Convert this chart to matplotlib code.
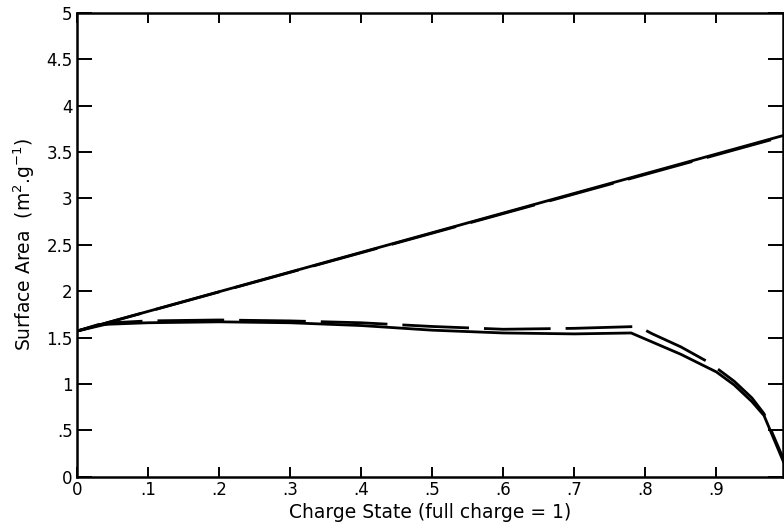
import numpy as np
import matplotlib
matplotlib.use('Agg')
import matplotlib.pyplot as plt

# Surface area vs. charge state, measured (solid) and model (dashed)
upper_x = [0.0, 1.0]
upper_solid = [1.57, 3.69]
upper_dashed = [1.57, 3.68]

lower_solid_x = [0.0, 0.03, 0.1, 0.2, 0.3, 0.4, 0.5, 0.6, 0.7, 0.78,
                 0.85, 0.9, 0.925, 0.95, 0.967, 0.995]
lower_solid_y = [1.57, 1.64, 1.66, 1.67, 1.66, 1.63, 1.58, 1.55, 1.54, 1.55,
                 1.32, 1.13, 0.99, 0.81, 0.66, 0.15]

lower_dashed_x = [0.0, 0.05, 0.1, 0.2, 0.3, 0.4, 0.5, 0.6, 0.7, 0.79,
                  0.81, 0.85, 0.89, 0.925, 0.95, 0.967, 0.995]
lower_dashed_y = [1.57, 1.66, 1.68, 1.69, 1.68, 1.66, 1.62, 1.59, 1.60, 1.62,
                  1.54, 1.40, 1.23, 1.03, 0.85, 0.68, 0.18]

xticks = [0, 0.1, 0.2, 0.3, 0.4, 0.5, 0.6, 0.7, 0.8, 0.9]
xtick_labels = ['0', '.1', '.2', '.3', '.4', '.5', '.6', '.7', '.8', '.9']
yticks = [0, 0.5, 1, 1.5, 2, 2.5, 3, 3.5, 4, 4.5, 5]
ytick_labels = ['0', '.5', '1', '1.5', '2', '2.5', '3', '3.5', '4', '4.5', '5']

plt.rcParams['font.family'] = ['DejaVu Sans']
plt.rcParams['mathtext.fontset'] = 'dejavusans'

fig = plt.figure(figsize=(7.84, 5.31), dpi=100)
ax = fig.add_axes([0.098, 0.102, 0.901, 0.874])

lw = 2.0
dash = (0, (24, 5.4))
ax.plot(upper_x, upper_solid, color='black', lw=lw)
ax.plot(upper_x, upper_dashed, color='black', lw=lw, linestyle=dash)
ax.plot(lower_solid_x, lower_solid_y, color='black', lw=lw)
ax.plot(lower_dashed_x, lower_dashed_y, color='black', lw=lw, linestyle=dash)

ax.set_xlim(0, 0.994)
ax.set_ylim(0, 5)
ax.set_xticks(xticks)
ax.set_xticklabels(xtick_labels)
ax.set_yticks(yticks)
ax.set_yticklabels(ytick_labels)

ax.tick_params(axis='x', direction='in', length=7, width=1.4, top=True,
               labelsize=12, pad=3)
ax.tick_params(axis='y', direction='in', length=11, width=1.4, right=True,
               labelsize=12, pad=3)
for side in ax.spines.values():
    side.set_linewidth(1.8)

ax.set_xlabel('Charge State (full charge = 1)', fontsize=13.5, labelpad=3)
ax.set_ylabel(r'Surface Area  (m$^2$.g$^{-1}$)', fontsize=13.5, labelpad=7)

fig.savefig('out.png', dpi=100)
